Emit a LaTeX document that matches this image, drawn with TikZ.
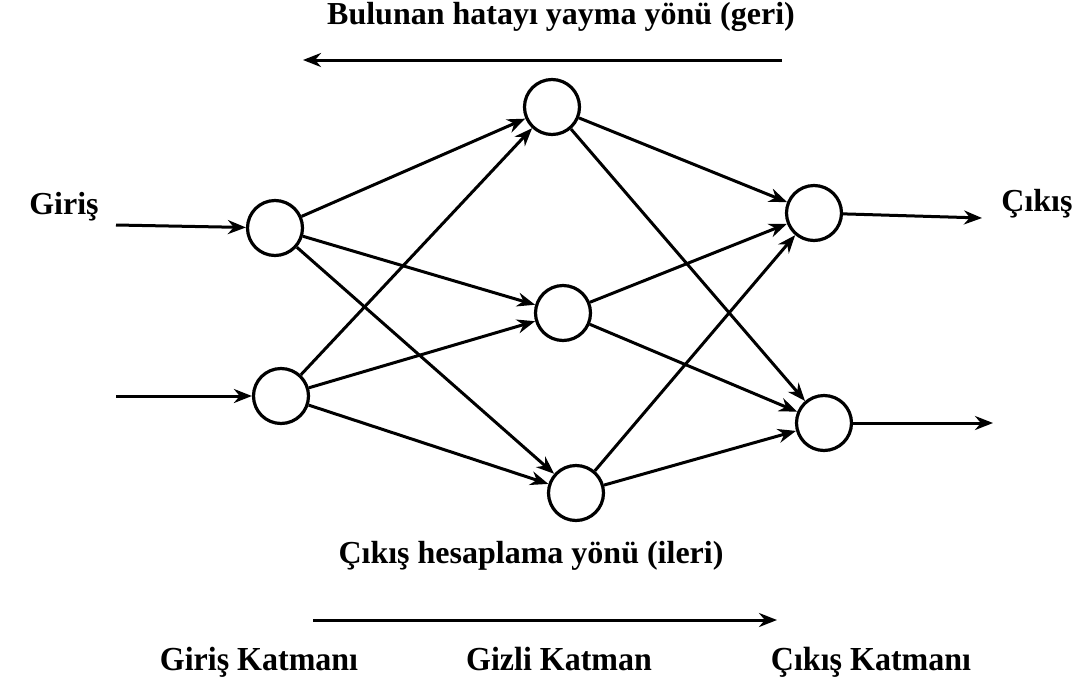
\documentclass[tikz,border=0pt]{standalone}
\usepackage{fontspec}
\setmainfont{Liberation Serif}
\usetikzlibrary{arrows.meta}
\tikzset{
  neuron/.style={circle,draw,line width=3.2pt,minimum size=55pt,inner sep=0pt},
  conn/.style={line width=3pt,-{Stealth[length=18pt,width=14pt]}},
  lbl/.style={font=\bfseries\fontsize{32}{38}\selectfont,inner sep=0pt},
  lbln/.style={font=\bfseries\fontsize{32}{38}\selectfont,inner sep=0pt,yscale=1.05}
}
\begin{document}
\begin{tikzpicture}[x=1pt,y=-1pt]
\useasboundingbox[fill=white] (0,0) rectangle (1090,686);
% nodes
\node[neuron] (i1) at (275,228) {};
\node[neuron] (i2) at (281,396) {};
\node[neuron] (h1) at (552,107) {};
\node[neuron] (h2) at (563,313) {};
\node[neuron] (h3) at (576,493) {};
\node[neuron] (o1) at (814,213) {};
\node[neuron] (o2) at (824,423) {};
\coordinate (in1) at (116,225);
\coordinate (in2) at (116,396);
\coordinate (out1) at (982,218);
\coordinate (out2) at (993,423);
\coordinate (tb) at (782,60);
\coordinate (te) at (303,60);
\coordinate (bb) at (313,620);
\coordinate (be) at (777,620);
% connectors
\draw[conn] (in1) -- (i1);
\draw[conn] (in2) -- (i2);
\foreach \a in {i1,i2}{\foreach \b in {h1,h2,h3}{\draw[conn] (\a) -- (\b);}}
\foreach \a in {h1,h2,h3}{\foreach \b in {o1,o2}{\draw[conn] (\a) -- (\b);}}
\draw[conn] (o1) -- (out1);
\draw[conn] (o2) -- (out2);
\draw[conn] (tb) -- (te);
\draw[conn] (bb) -- (be);
% labels
\node[lbl] (t1) at (561,17) {Bulunan hatayı yayma yönü (geri)};
\node[lbl] (t2) at (64,207) {Giriş};
\node[lbl] (t3) at (1037,204) {Çıkış};
\node[lbl] (t4) at (531,556) {Çıkış hesaplama yönü (ileri)};
\node[lbln] (t5) at (259,662) {Giriş Katmanı};
\node[lbln] (t6) at (559,659) {Gizli Katman};
\node[lbln] (t7) at (871,662) {Çıkış Katmanı};
\end{tikzpicture}
\end{document}
